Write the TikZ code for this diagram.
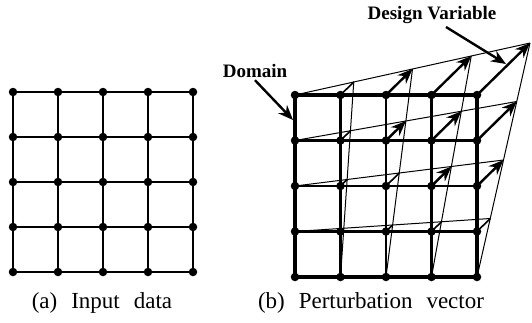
\documentclass[tikz,border=0pt]{standalone}
\usepackage{fontspec}
\setmainfont{Liberation Serif}
\usepackage{tikz}
\usetikzlibrary{arrows.meta,positioning,calc}

\begin{document}
\begin{tikzpicture}[x=1pt,y=-1pt,
  dot/.style={circle,fill=black,inner sep=0pt,minimum size=8.5pt},
  mesh/.style={line width=2.2pt},
  border/.style={line width=4.8pt},
  pert/.style={line width=1pt},
  vec/.style={-{Stealth[length=15pt,width=12pt]},line width=2.4pt},
  short/.style={line width=1.6pt},
  lbl/.style={font=\fontsize{19}{22}\selectfont\bfseries},
  caption/.style={font=\fontsize{23}{26}\selectfont},
]
  \useasboundingbox (0,0) rectangle (532,322);

  % (a) input grid
  \foreach \i in {0,...,4}
    \foreach \j in {0,...,4}
      \node[dot] (a\i\j) at ({13+45*\i},{272-45*\j}) {};
  \foreach \k in {0,...,4} {
    \draw[mesh] (a0\k.center) -- (a4\k.center);
    \draw[mesh] (a\k0.center) -- (a\k4.center);
  }
  \node[caption] (capa) at (102,303) {(a)\hspace{14pt}Input\hspace{14pt}data};

  % (b) domain and perturbed grid
  \foreach \i in {0,...,4}
    \foreach \j in {0,...,4} {
      \node[dot] (b\i\j) at ({295+45.5*\i},{277-45.5*\j}) {};
      \coordinate (p\i\j) at ({295+45.5*\i+53*\i*\j/16},{277-45.5*\j-52*\i*\j/16});
    }
  \foreach \k in {1,...,3} {
    \draw[mesh] (b0\k.center) -- (b4\k.center);
    \draw[mesh] (b\k0.center) -- (b\k4.center);
  }
  \draw[border] (b00.center) rectangle (b44.center);
  \foreach \k in {1,...,4} {
    \draw[pert] (p0\k) -- (p4\k);
    \draw[pert] (p\k0) -- (p\k4);
  }
  % perturbation vectors
  \foreach \i in {1,...,4}
    \foreach \j in {1,...,4} {
      \pgfmathtruncatemacro{\w}{\i*\j}
      \ifnum\w>5
        \draw[vec] (b\i\j.center) -- (p\i\j);
      \else
        \draw[short] (b\i\j.center) -- (p\i\j);
      \fi
    }
  \node[caption] (capb) at (371,303) {(b)\hspace{14pt}Perturbation\hspace{14pt}vector};

  % labels
  \node[lbl] (domain) at (255,71) {Domain};
  \coordinate (domtip) at (293,120);
  \draw[vec] (domain.south) ++(0,-1) -- (domtip);
  \node[lbl] (design) at (432,15) {Design Variable};
  \coordinate (destip) at (506,64);
  \draw[vec] (446,27) -- (destip);
\end{tikzpicture}
\end{document}
